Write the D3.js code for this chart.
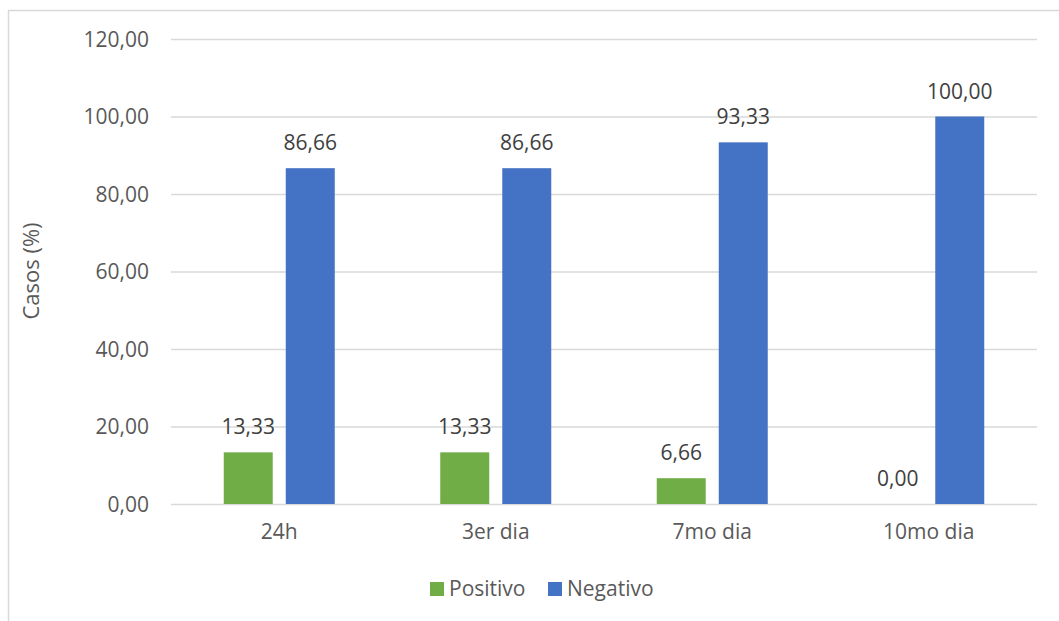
<!DOCTYPE html>
<html><head><meta charset="utf-8">
<script src="https://cdn.jsdelivr.net/npm/d3@7"></script>
<style>
body{margin:0;background:#fff;}
text{font-family:"Open Sans",Calibri,sans-serif;}
</style></head>
<body><svg id="c" width="1059" height="621"></svg>
<script>
const categories = ["24h", "3er dia", "7mo dia", "10mo dia"];
const positivo = [13.33, 13.33, 6.66, 0.00];
const negativo = [86.66, 86.66, 93.33, 100.00];
const seriesNames = ["Positivo", "Negativo"];
const seriesColors = ["#70AD47", "#4472C4"];
const yTicks = [0, 20, 40, 60, 80, 100, 120];

const svg = d3.select("#c");
const W = 1059, H = 621;
const m = {left: 171, right: 1037, top: 39, bottom: 504};
const fmt = v => v.toFixed(2).replace(".", ",");
const FS = "21px";

// outer border
svg.append("rect").attr("x", 8.5).attr("y", 10.5).attr("width", W + 10).attr("height", H + 10)
  .attr("fill", "none").attr("stroke", "#d9d9d9").attr("stroke-width", 1.5);

const y = d3.scaleLinear().domain([0, 120]).range([m.bottom, m.top]);
const x0 = d3.scaleBand().domain(categories).range([m.left, m.right]).paddingInner(0).paddingOuter(0);
const groupW = 111;
const x1 = d3.scaleBand().domain(seriesNames).range([0, groupW]).paddingInner(0.21);
const groupOffset = (x0.bandwidth() - groupW) / 2;

// gridlines
const yAxis = d3.axisLeft(y).tickValues(yTicks).tickSize(-(m.right - m.left)).tickFormat(fmt).tickPadding(22);
const gy = svg.append("g").attr("transform", `translate(${m.left},0)`).call(yAxis);
gy.select(".domain").remove();
gy.selectAll(".tick line").attr("stroke", "#d9d9d9").attr("stroke-width", 1.5);
gy.selectAll(".tick text").attr("fill", "#595959").attr("font-size", FS).attr("dy", "0.35em");

// x axis labels
const xAxis = d3.axisBottom(x0).tickSize(0).tickPadding(20);
const gx = svg.append("g").attr("transform", `translate(0,${m.bottom})`).call(xAxis);
gx.select(".domain").remove();
gx.selectAll(".tick text").attr("fill", "#595959").attr("font-size", FS);

const data = categories.map((c, i) => ({c, vals: [positivo[i], negativo[i]]}));
const groups = svg.append("g").selectAll("g").data(data).join("g")
  .attr("transform", d => `translate(${x0(d.c) + groupOffset},0)`);

groups.selectAll("rect").data(d => d.vals.map((v, j) => ({v, s: seriesNames[j], j})))
  .join("rect")
  .attr("x", d => x1(d.s))
  .attr("width", x1.bandwidth())
  .attr("y", d => y(d.v))
  .attr("height", d => y(0) - y(d.v))
  .attr("fill", d => seriesColors[d.j]);

groups.selectAll("text.lbl").data(d => d.vals.map((v, j) => ({v, s: seriesNames[j], j})))
  .join("text").attr("class", "lbl")
  .attr("x", d => x1(d.s) + x1.bandwidth() / 2)
  .attr("y", d => y(d.v) - 18)
  .attr("text-anchor", "middle")
  .attr("fill", "#404040").attr("font-size", FS)
  .text(d => fmt(d.v));

// y axis title
svg.append("text").attr("transform", `translate(39,271) rotate(-90)`)
  .attr("text-anchor", "middle").attr("fill", "#595959").attr("font-size", "22px")
  .text("Casos (%)");

// legend
const leg = svg.append("g");
const legX = [430, 548];
seriesNames.forEach((n, i) => {
  leg.append("rect").attr("x", legX[i]).attr("y", 582).attr("width", 14).attr("height", 14).attr("fill", seriesColors[i]);
  leg.append("text").attr("x", legX[i] + 19).attr("y", 589).attr("dy", "0.35em")
    .attr("fill", "#595959").attr("font-size", FS).text(n);
});
</script></body></html>
